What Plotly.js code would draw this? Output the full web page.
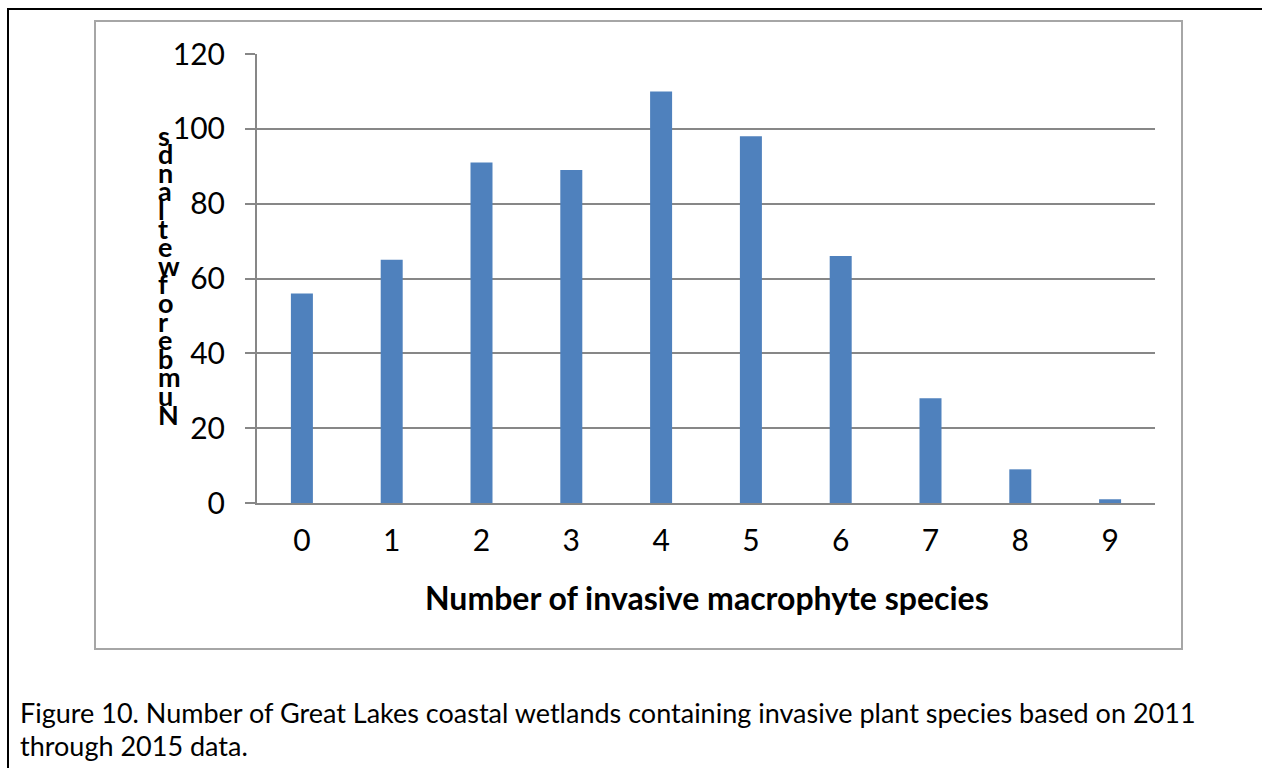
<!DOCTYPE html>
<html>
<head>
<meta charset="utf-8">
<script src="https://cdn.plot.ly/plotly-3.0.1.min.js"></script>
<style>html,body{margin:0;padding:0;background:#fff;}#chart{width:1262px;height:768px;}</style>
</head>
<body>
<div id="chart"></div>
<script>
const categories = ["0","1","2","3","4","5","6","7","8","9"];
const wetlandCounts = [56, 65, 91, 89, 110, 98, 66, 28, 9, 1];
const yTicks = [0, 20, 40, 60, 80, 100, 120];
const xTitle = "Number of invasive macrophyte species";
const yTitle = "Number of wetlands";
const captionLines = ["Figure 10. Number of Great Lakes coastal wetlands containing invasive plant species based on 2011", "through 2015 data."];

const W = 1262, H = 768;
const L = 257, R = 1155, T = 54, B = 503;
const px = x => (x - L) / (R - L);
const py = y => (B - y) / (B - T);
const FONT = "Lato, 'Open Sans', sans-serif";
const gray = "#878787";

const annotations = [];
// x-axis title
annotations.push({xref:'paper', yref:'paper', x:px(707), y:py(597), text:'<b>'+xTitle+'</b>', showarrow:false, xanchor:'center', yanchor:'middle', font:{family:FONT, size:32, color:'#000'}});
// stacked y-axis title letters (drawn bottom-up as in the reference)
const letters = yTitle.replace(/ /g,'').split('');
const topY = 135, botY = 414;
const step = (botY - topY) / (letters.length - 1);
letters.forEach((ch, i) => {
  annotations.push({xref:'paper', yref:'paper', x:px(156), y:py(botY - i*step), text:'<b>'+ch+'</b>', showarrow:false, xanchor:'left', yanchor:'middle', font:{family:FONT, size:27, color:'#000'}});
});
// caption
captionLines.forEach((line, i) => {
  annotations.push({xref:'paper', yref:'paper', x:px(18), y:py(712 + i*33), text:line, showarrow:false, xanchor:'left', yanchor:'middle', font:{family:FONT, size:27, color:'#000'}});
});

const shapes = [
  {type:'line', xref:'paper', yref:'paper', x0:px(8), x1:px(8), y0:py(9), y1:py(770), line:{color:'#000', width:2}},
  {type:'line', xref:'paper', yref:'paper', x0:px(7), x1:px(1264), y0:py(9), y1:py(9), line:{color:'#000', width:2}},
  {type:'rect', xref:'paper', yref:'paper', x0:px(95), x1:px(1182), y0:py(649), y1:py(21), line:{color:'#a6a6a6', width:2}, fillcolor:'rgba(0,0,0,0)', layer:'below'}
];

Plotly.newPlot('chart', [{
  type:'bar', x:categories, y:wetlandCounts,
  marker:{color:'#4f81bd', line:{width:0}},
  hoverinfo:'none'
}], {
  width:W, height:H,
  margin:{l:L, r:W-R, t:T, b:H-B, pad:0},
  paper_bgcolor:'#fff', plot_bgcolor:'#fff',
  bargap:0.755,
  showlegend:false,
  xaxis:{type:'category', range:[-0.5, 9.5], showline:true, linecolor:gray, linewidth:2, ticks:'', showgrid:false, zeroline:false,
         tickfont:{family:FONT, size:30, color:'#000'}, ticklabelstandoff:10},
  yaxis:{range:[0,120], tickvals:yTicks, showline:true, linecolor:gray, linewidth:2, ticks:'outside', ticklen:10, tickwidth:2, tickcolor:gray,
         showgrid:true, gridcolor:gray, gridwidth:2, zeroline:false,
         tickfont:{family:FONT, size:30, color:'#000'}, ticklabelstandoff:14},
  annotations:annotations,
  shapes:shapes
}, {displayModeBar:false, staticPlot:true});
</script>
</body>
</html>
